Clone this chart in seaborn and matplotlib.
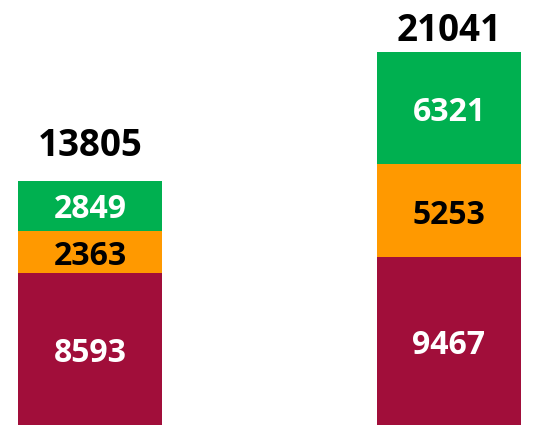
import numpy as np
import pandas as pd
import matplotlib
matplotlib.use("Agg")
import matplotlib.pyplot as plt
import seaborn as sns

# Two stacked columns, three components each (bottom to top)
groups = ["A", "B"]
base = [8593, 9467]
middle = [2363, 5253]
top = [2849, 6321]
totals = [13805, 21041]

seg_values = [base, middle, top]
seg_colors = ["#A10E3A", "#FF9900", "#00B050"]
seg_text = ["white", "black", "white"]

# vertical gap (points) between column top and its total label
total_offsets = [25, 15.5]

sns.set_theme(style="white")
plt.rcParams["font.family"] = ["Open Sans", "DejaVu Sans"]

fig = plt.figure(figsize=(5.37, 4.25), dpi=100)
ax = fig.add_axes([0, 0, 1, 1])

bottom = np.zeros(len(groups))
for vals, col, tcol in zip(seg_values, seg_colors, seg_text):
    df = pd.DataFrame({"group": groups, "value": vals})
    sns.barplot(data=df, x="group", y="value", bottom=bottom, color=col,
                saturation=1, width=0.4, linewidth=0, errorbar=None, ax=ax)
    for i, v in enumerate(vals):
        ax.annotate(f"{v}", xy=(i, bottom[i] + v / 2), xytext=(0, -3),
                    textcoords="offset points", ha="center", va="center",
                    color=tcol, fontsize=23, fontweight="bold")
    bottom = bottom + np.array(vals)

for i, t in enumerate(totals):
    ax.annotate(f"{t}", xy=(i, t), xytext=(0, total_offsets[i]),
                textcoords="offset points", ha="center", va="center",
                color="black", fontsize=26.5, fontweight="bold")

ax.set_xlim(-0.2514, 1.2453)
ax.set_ylim(0, 24000)
ax.axis("off")

fig.savefig("out.png", dpi=100)
